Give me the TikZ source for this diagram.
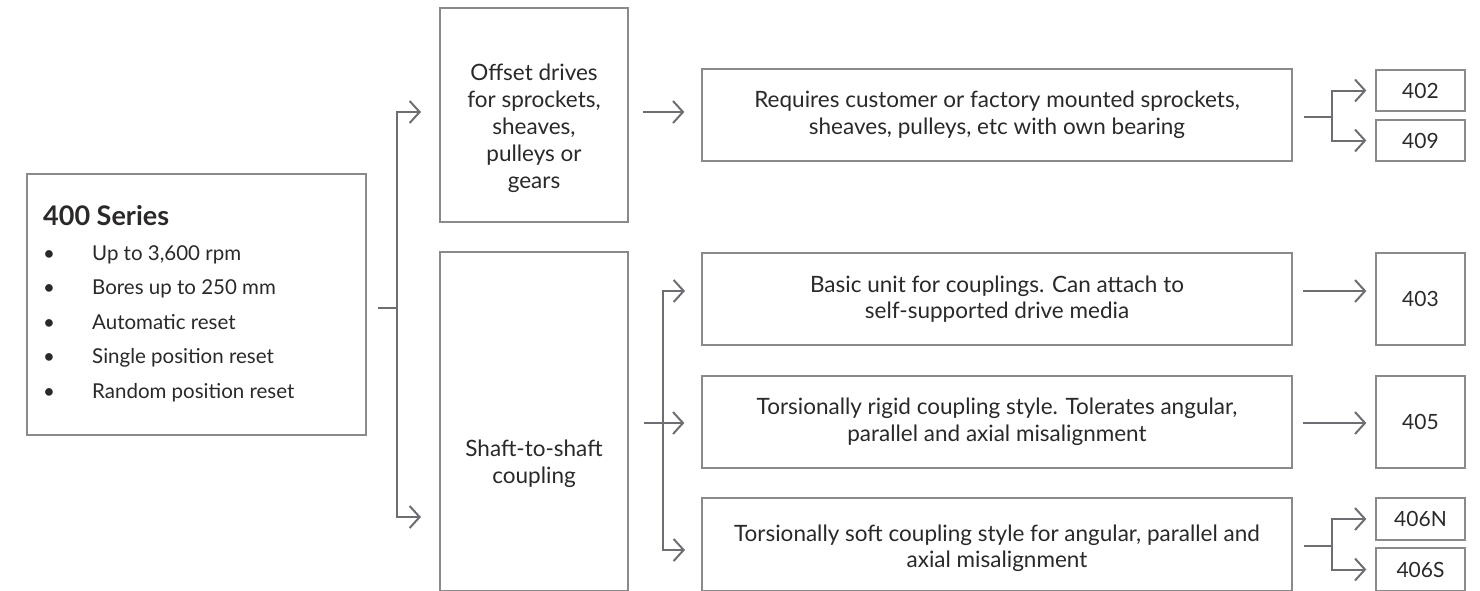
\documentclass[tikz,border=0pt]{standalone}
\usepackage{fontspec}
\setmainfont{Lato}
\usetikzlibrary{arrows.meta,calc}
\definecolor{linegray}{HTML}{6D6E71}
\definecolor{boxgray}{HTML}{8A8A8A}
\definecolor{ink}{HTML}{2B2829}
\begin{document}
\begin{tikzpicture}[x=1pt,y=-1pt,
  box/.style={draw=boxgray, line width=1.3pt, inner sep=0pt, text=ink, align=center,
              font=\fontsize{22.5}{26.5}\selectfont},
  boxtext/.style={text=ink, align=center, inner sep=0pt, font=\fontsize{22.5}{27}\selectfont},
  numbox/.style={box, minimum width=89pt, font=\fontsize{21}{21}\selectfont},
  txt/.style={anchor=base west, text=ink, inner sep=0pt, font=\fontsize{20.5}{22}\selectfont},
  ln/.style={draw=linegray, line width=2pt},
  arr/.style={ln, -{Straight Barb[length=10pt,width=22pt]}}]
\useasboundingbox (0,0) rectangle (1480,590);
\clip (0,0) rectangle (1480,590);

% summary box with heading and bullet list
\node[box, minimum width=339pt, minimum height=261pt] (series) at (196.5,304.5) {};
\node[txt, font=\bfseries\fontsize{27}{27}\selectfont] (title) at (43,225) {400 Series};
\foreach \i/\t [count=\k] in {260/Up to 3{,}600 rpm, 294.5/Bores up to 250 mm,
    329/Automatic reset, 363.5/Single position reset, 398/Random position reset}{
  \node[txt] (dot\k) at (43,\i) {•};
  \node[txt] (item\k) at (92,\i) {\t};
}

% drive type boxes (text sits a little below the box centre)
\node[box, minimum width=188pt, minimum height=214pt,
      label={[boxtext, yshift=-13pt]center:Offset drives\\for sprockets,\\sheaves,\\pulleys or\\gears}]
  (offset) at (534,115) {};
\node[box, minimum width=188pt, minimum height=339pt,
      label={[boxtext, yshift=-42pt]center:Shaft-to-shaft\\coupling}]
  (shaft) at (534,421.5) {};

% description boxes
\node[box, minimum width=590pt, minimum height=92pt] (req) at (997,115)
  {Requires customer or factory mounted sprockets,\\sheaves, pulleys, etc with own bearing};
\node[box, minimum width=590pt, minimum height=92pt] (basic) at (997,299)
  {Basic unit for couplings. Can attach to\\self-supported drive media};
\node[box, minimum width=590pt, minimum height=92pt] (rigid) at (997,422)
  {Torsionally rigid coupling style. Tolerates angular,\\parallel and axial misalignment};
\node[box, minimum width=590pt, minimum height=93pt,
      label={[boxtext, font=\fontsize{22.5}{26.5}\selectfont, yshift=-4pt]center:Torsionally soft coupling style for angular, parallel and\\axial misalignment}]
  (soft) at (997,544.5) {};

% model number boxes
\node[numbox, minimum height=41pt] (n402) at (1420.5,90.5) {402};
\node[numbox, minimum height=41pt] (n409) at (1420.5,140.5) {409};
\node[numbox, minimum height=92pt] (n403) at (1420.5,299) {403};
\node[numbox, minimum height=92pt] (n405) at (1420.5,422) {405};
\node[numbox, minimum height=42pt] (n406N) at (1420.5,519) {406N};
\node[numbox, minimum height=43pt] (n406S) at (1420.5,569.5) {406S};

% connector junctions and free ends
\coordinate (j0) at (397,308);
\coordinate (tOff) at (421,112);
\coordinate (tShaft) at (421,517);
\coordinate (o1) at (643,112);
\coordinate (j1) at (1332,117);
\coordinate (j2) at (663,423);
\coordinate (tBasic) at (685,291);
\coordinate (tSoft) at (685,550);
\coordinate (a3) at (1303,291);
\coordinate (a5) at (1303,423);
\coordinate (j3) at (1332,546);

% series -> drive types
\draw[ln] ([xshift=11pt]series.east |- j0) -- (j0);
\draw[arr] (j0) |- (tOff);
\draw[arr] (j0) |- (tShaft);

% offset drives -> description
\draw[arr, shorten >=17pt] (o1) -- (o1 -| req.west);

% description -> 402 / 409
\draw[ln] ([xshift=11pt]req.east |- j1) -- (j1);
\draw[arr, shorten >=9pt] (j1) |- (n402.west);
\draw[arr, shorten >=9pt] (j1) |- (n409.west);

% shaft coupling -> descriptions
\draw[ln] ([xshift=15pt]shaft.east |- j2) -- (j2);
\draw[arr] (j2) |- (tBasic);
\draw[arr, shorten >=17pt] (j2) -- (j2 -| rigid.west);
\draw[arr] (j2) |- (tSoft);

% descriptions -> model numbers
\draw[arr, shorten >=9pt] (a3) -- (a3 -| n403.west);
\draw[arr, shorten >=9pt] (a5) -- (a5 -| n405.west);
\draw[ln] ([xshift=11pt]soft.east |- j3) -- (j3);
\draw[arr, shorten >=9pt] (j3) |- (n406N.west);
\draw[arr, shorten >=9pt] (j3) |- (n406S.west);
\end{tikzpicture}
\end{document}
